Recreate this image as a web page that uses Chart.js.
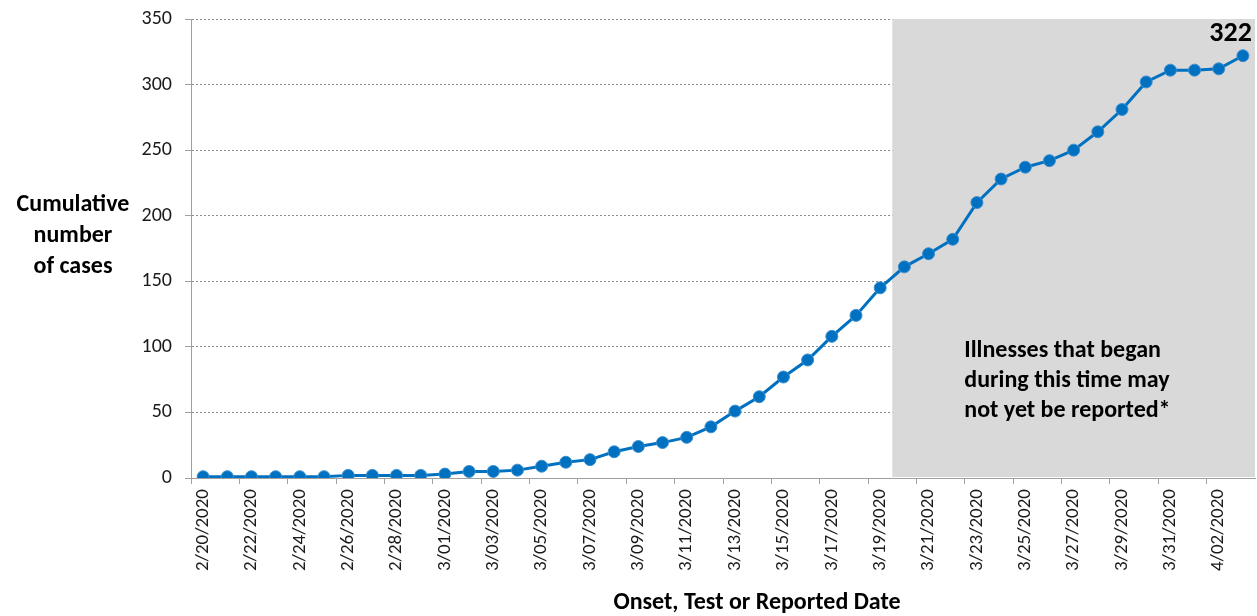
<!DOCTYPE html>
<html>
<head>
<meta charset="utf-8">
<script src="https://cdn.jsdelivr.net/npm/chart.js@4.4.0/dist/chart.umd.min.js"></script>
<style>
  html, body { margin: 0; padding: 0; background: #fff; overflow: hidden; }
  /* a little wider than the window: Chart.js keeps a few px free on the right */
  #wrap { width: 1262px; height: 616px; position: relative; }
</style>
</head>
<body>
<div id="wrap"><canvas id="casesChart"></canvas></div>
<script>
// Onset dates (one per day)
const dates = [
    '2/20/2020', '2/21/2020', '2/22/2020', '2/23/2020', '2/24/2020', '2/25/2020', '2/26/2020',
    '2/27/2020', '2/28/2020', '2/29/2020', '3/01/2020', '3/02/2020', '3/03/2020', '3/04/2020',
    '3/05/2020', '3/06/2020', '3/07/2020', '3/08/2020', '3/09/2020', '3/10/2020', '3/11/2020',
    '3/12/2020', '3/13/2020', '3/14/2020', '3/15/2020', '3/16/2020', '3/17/2020', '3/18/2020',
    '3/19/2020', '3/20/2020', '3/21/2020', '3/22/2020', '3/23/2020', '3/24/2020', '3/25/2020',
    '3/26/2020', '3/27/2020', '3/28/2020', '3/29/2020', '3/30/2020', '3/31/2020', '4/01/2020',
    '4/02/2020', '4/03/2020'
];

// Cumulative number of cases
const cumulativeCases = [
    1, 1, 1, 1, 1, 1, 2, 2, 2, 2,
    3, 5, 5, 6, 9, 12, 14, 20, 24, 27, 31, 39, 51, 62, 77, 90, 108, 124, 145,
    161, 171, 182, 210, 228, 237, 242, 250, 264, 281, 302, 311,
    311, 312, 322
];

// Y axis range / ticks
const yMin = 0;
const yMax = 350;
const yStep = 50;

// First date of the "may not yet be reported" period
const lagStartDate = '3/20/2020';
const lagNote = ['Illnesses that began', 'during this time may', 'not yet be reported*'];
const yTitle = ['Cumulative', 'number', 'of cases'];
const xTitle = 'Onset, Test or Reported Date';

const FONT = "Carlito, Calibri, 'Open Sans', sans-serif";
const BLUE = '#0070c0';

// Shaded reporting-lag region, drawn over the grid and under the line
const lagShade = {
    id: 'lagShade',
    beforeDatasetsDraw(chart) {
        const { ctx, chartArea, scales: { x } } = chart;
        const idx = dates.indexOf(lagStartDate);
        const x0 = (x.getPixelForValue(idx - 1) + x.getPixelForValue(idx)) / 2;
        ctx.save();
        ctx.fillStyle = '#d9d9d9';
        ctx.fillRect(x0, chartArea.top, chartArea.right - x0, chartArea.bottom - chartArea.top - 1);
        ctx.restore();
    }
};

// Titles, note and last-value label
const textLayer = {
    id: 'textLayer',
    afterDatasetsDraw(chart) {
        const { ctx, scales: { x } } = chart;
        ctx.save();
        ctx.fillStyle = '#000';
        ctx.textBaseline = 'middle';

        // y axis title, horizontal, left of the ticks
        ctx.font = "bold 24px " + FONT;
        ctx.textAlign = 'center';
        yTitle.forEach((line, i) => ctx.fillText(line, 73, 205 + i * 31));

        // x axis title
        ctx.fillText(xTitle, 757, 603);

        // note inside the shaded area
        const idx = dates.indexOf(lagStartDate);
        const x0 = (x.getPixelForValue(idx - 1) + x.getPixelForValue(idx)) / 2;
        ctx.textAlign = 'left';
        lagNote.forEach((line, i) => ctx.fillText(line, x0 + 72, 351 + i * 30));

        // last value label
        const meta = chart.getDatasetMeta(0);
        const last = meta.data[meta.data.length - 1];
        ctx.font = "bold 28px " + FONT;
        ctx.textAlign = 'right';
        ctx.fillText(String(cumulativeCases[cumulativeCases.length - 1]), last.x + 9, last.y - 22);
        ctx.restore();
    }
};

const ctx = document.getElementById('casesChart').getContext('2d');
const casesChart = new Chart(ctx, {
    type: 'line',
    data: {
        labels: dates,
        datasets: [{
            data: cumulativeCases,
            borderColor: BLUE,
            backgroundColor: BLUE,
            borderWidth: 3,
            pointRadius: 6,
            pointBorderWidth: 1,
            pointBorderColor: '#3d8fd0',
            pointBackgroundColor: BLUE,
            tension: 0
        }]
    },
    options: {
        responsive: true,
        maintainAspectRatio: false,
        animation: false,
        layout: {
            padding: { top: 19, right: 2, left: 0, bottom: 0 }
        },
        plugins: {
            legend: { display: false },
            tooltip: { enabled: false },
            title: { display: false }
        },
        scales: {
            x: {
                offset: true,
                grid: {
                    offset: true,
                    drawOnChartArea: false,
                    drawTicks: true,
                    tickLength: 6,
                    tickColor: c => (c.index % 2 === 0 ? '#a0a0a0' : 'rgba(0,0,0,0)')
                },
                border: { display: true, color: '#a0a0a0', width: 1 },
                ticks: {
                    autoSkip: false,
                    minRotation: 90,
                    maxRotation: 90,
                    padding: 5,
                    color: '#1a1a1a',
                    font: { family: FONT, size: 19 },
                    callback: function (value, index) {
                        return index % 2 === 0 ? this.getLabelForValue(value) : '';
                    }
                },
                afterFit: scale => {
                    scale.height = 138;
                    scale.paddingLeft = 0;
                    scale.paddingRight = 0;
                }
            },
            y: {
                min: yMin,
                max: yMax,
                grid: {
                    color: '#8c8c8c',
                    lineWidth: 1,
                    drawTicks: true,
                    tickLength: 6,
                    tickColor: '#a0a0a0'
                },
                border: { display: true, color: '#a0a0a0', width: 1, dash: [2, 2] },
                ticks: {
                    stepSize: yStep,
                    padding: 13,
                    color: '#1a1a1a',
                    font: { family: FONT, size: 20 }
                },
                afterFit: scale => {
                    scale.width = 191;
                    scale.paddingTop = 0;
                    scale.paddingBottom = 0;
                }
            }
        }
    },
    plugins: [lagShade, textLayer]
});
</script>
</body>
</html>
